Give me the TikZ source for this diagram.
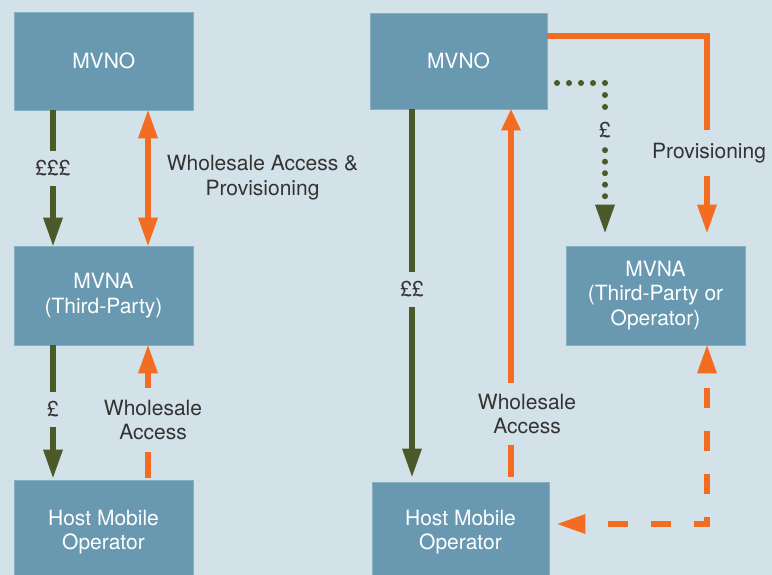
\documentclass[tikz,border=0pt]{standalone}
\usepackage{fontspec}
\setmainfont{TeX Gyre Heros}
\usetikzlibrary{arrows.meta}
\definecolor{bgc}{HTML}{D3E1E8}
\definecolor{boxc}{HTML}{6899B1}
\definecolor{boxe}{HTML}{86AFC3}
\definecolor{grn}{HTML}{4B5A28}
\definecolor{org}{HTML}{F36C21}
\definecolor{txt}{HTML}{333333}
\tikzset{Bighead/.tip={Triangle[length=28pt,width=20pt,line width=0pt]}}
\begin{document}
\begin{tikzpicture}[x=1pt,y=-1pt,
  every node/.style={font=\fontsize{21}{24.5}\selectfont},
  boxnode/.style={fill=boxc, draw=boxe, line width=0.8pt, text=white, align=center, inner sep=0pt},
  lbl/.style={text=txt, align=center, inner sep=0pt},
  gline/.style={draw=grn, line width=6pt},
  oline/.style={draw=org, line width=6pt}]
\useasboundingbox (0,0) rectangle (772,575);
\clip (0,0) rectangle (772,575);
\fill[bgc] (0,0) rectangle (772,575);

% boxes
\node[boxnode, minimum width=179.5pt, minimum height=98pt] (mvnoL) at (103.75,61) {MVNO};
\node[boxnode, minimum width=179pt, minimum height=99pt] (mvnaL) at (103.5,295.5) {MVNA\\(Third-Party)};
\node[boxnode, minimum width=179pt, minimum height=104pt] (hostL) at (103.5,532) {Host Mobile\\Operator};
\node[boxnode, minimum width=177pt, minimum height=96pt] (mvnoR) at (458.5,61) {MVNO};
\node[boxnode, minimum width=179pt, minimum height=99pt] (mvnaR) at (655.5,295.5) {MVNA\\(Third-Party or\\Operator)};
\node[boxnode, minimum width=177pt, minimum height=100pt] (hostR) at (460.5,532) {Host Mobile\\Operator};

% line x positions
\coordinate (xg1) at (53,0);
\coordinate (xo1) at (148,0);
\coordinate (xg2) at (412,0);
\coordinate (xo2) at (511,0);
\coordinate (xd) at (605,0);

% labels
\node[lbl, minimum height=35pt] (l1) at (53,168.5) {£££};
\node[lbl] (l2) at (262.5,177.5) {Wholesale Access \&\\Provisioning};
\node[lbl, minimum height=35pt] (l3) at (53,409.5) {£};
\node[lbl, minimum height=63pt] (l4) at (153,420) {Wholesale\\Access};
\node[lbl, minimum height=35pt] (l5) at (412,289.5) {££};
\node[lbl, minimum height=62pt] (l6) at (527,414) {Wholesale\\Access};
\node[lbl, minimum height=40pt] (l7) at (605,130) {£};
\node[lbl, minimum height=46pt] (l8) at (709,153) {Provisioning};

% left side connectors
\draw[gline] (mvnoL.south -| xg1) -- (l1.north);
\draw[gline, -Bighead] (l1.south) -- (mvnaL.north -| xg1);
\draw[oline, Bighead-Bighead] (mvnoL.south -| xo1) -- (mvnaL.north -| xo1);
\draw[gline] (mvnaL.south -| xg1) -- (l3.north);
\draw[gline, -Bighead, shorten >=2pt] (l3.south) -- (hostL.north -| xg1);
\draw[oline, Bighead-] (mvnaL.south -| xo1) -- (l4.north -| xo1);
\draw[oline, shorten <=2pt] (hostL.north -| xo1) -- (l4.south -| xo1);

% right side connectors
\draw[gline] (mvnoR.south -| xg2) -- (l5.north);
\draw[gline, -Bighead, shorten >=5pt] (l5.south) -- (hostR.north -| xg2);
\draw[oline, -{Triangle[length=21pt,width=20pt,line width=0pt]}] (l6.north -| xo2) -- (mvnoR.south -| xo2);
\draw[oline, shorten <=5pt] (hostR.north -| xo2) -- (l6.south -| xo2);

% dotted money flow
\coordinate (d0) at (557,83);
\coordinate (d1) at (605,83);
\draw[gline, line cap=round, dash pattern=on 0pt off 12pt] (d0) -- (d1) -- (l7.north);
\draw[gline, line cap=round, dash pattern=on 0pt off 11.5pt, -Bighead, shorten >=13pt] (l7.south) -- (mvnaR.north -| xd);

% provisioning
\coordinate (p0) at (707,36);
\draw[oline] (mvnoR.east |- p0) -- (p0) -- (l8.north -| p0);
\draw[oline, -Bighead, shorten >=13pt] (l8.south -| p0) -- (mvnaR.north -| p0);

% dashed wholesale access
\coordinate (c0) at (707,524);
\draw[oline, dash pattern=on 20pt off 23pt, dash phase=28pt, Bighead-Bighead, shorten >=8pt] (mvnaR.south -| c0) -- (c0) -- (hostR.east |- c0);
\end{tikzpicture}
\end{document}
